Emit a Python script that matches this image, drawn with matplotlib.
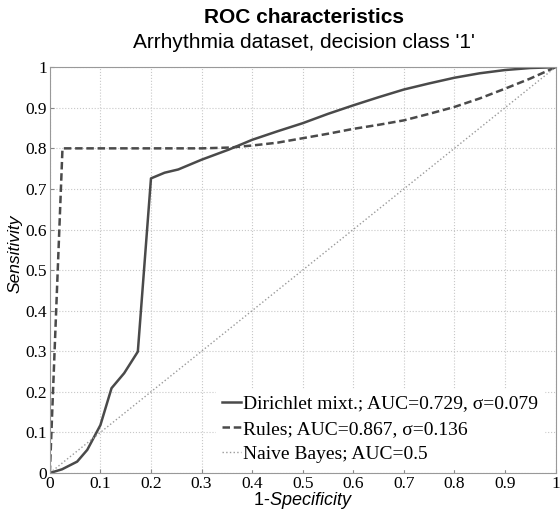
import matplotlib.pyplot as plt

plt.rcParams['mathtext.fontset'] = 'custom'
plt.rcParams['mathtext.rm'] = 'Liberation Sans'
plt.rcParams['mathtext.it'] = 'Liberation Sans:italic'

# ROC data
dirichlet_x = [0, 0.024, 0.054, 0.074, 0.1, 0.122, 0.147, 0.174, 0.2, 0.227, 0.254,
               0.3, 0.354, 0.4, 0.45, 0.5, 0.55, 0.6, 0.65, 0.7, 0.75, 0.8, 0.85,
               0.9, 0.95, 1.0]
dirichlet_y = [0, 0.009, 0.028, 0.057, 0.118, 0.209, 0.246, 0.299, 0.726, 0.74, 0.748,
               0.772, 0.797, 0.821, 0.842, 0.862, 0.885, 0.906, 0.926, 0.945, 0.96,
               0.974, 0.985, 0.993, 0.998, 1.0]

rules_x = [0, 0.025, 0.1, 0.2, 0.3, 0.356, 0.4, 0.45, 0.5, 0.55, 0.6, 0.65, 0.7,
           0.75, 0.8, 0.85, 0.9, 0.95, 1.0]
rules_y = [0, 0.8, 0.8, 0.8, 0.8, 0.802, 0.807, 0.814, 0.825, 0.836, 0.848, 0.858,
           0.869, 0.885, 0.902, 0.923, 0.947, 0.972, 1.0]

nb_x = [0, 1]
nb_y = [0, 1]

labels = ['Dirichlet mixt.; AUC=0.729, σ=0.079',
          'Rules; AUC=0.867, σ=0.136',
          'Naive Bayes; AUC=0.5']

ticks = [0, 0.1, 0.2, 0.3, 0.4, 0.5, 0.6, 0.7, 0.8, 0.9, 1]
tick_labels = ['0', '0.1', '0.2', '0.3', '0.4', '0.5', '0.6', '0.7', '0.8', '0.9', '1']

fig = plt.figure(figsize=(5.6, 5.13), dpi=100)
ax = fig.add_axes([0.089, 0.078, 0.903, 0.791])

ax.plot(dirichlet_x, dirichlet_y, '-', color='#4a4a4a', linewidth=1.8, label=labels[0])
ax.plot(rules_x, rules_y, '--', color='#4a4a4a', linewidth=1.8, dashes=(3, 1.5), label=labels[1])
ax.plot(nb_x, nb_y, ':', color='#9a9a9a', linewidth=1.0, label=labels[2])

ax.set_xlim(0, 1)
ax.set_ylim(0, 1)
ax.set_xticks(ticks)
ax.set_yticks(ticks)
ax.set_xticklabels(tick_labels, family='Liberation Serif', fontsize=12.5)
ax.set_yticklabels(tick_labels, family='Liberation Serif', fontsize=12.5)
ax.tick_params(direction='in', length=3, color='#888888', pad=2)
ax.grid(True, linestyle=':', color='#c8c8c8', linewidth=0.8)
for s in ax.spines.values():
    s.set_color('#999999')

ax.set_xlabel('1-$\\it{Specificity}$', family='Liberation Sans', fontsize=13, labelpad=-1)
ax.set_ylabel('Sensitivity', family='Liberation Sans', style='italic', fontsize=12.5)
ax.yaxis.set_label_coords(-0.055, 0.54)

leg = ax.legend(loc='lower right', bbox_to_anchor=(0.985, 0.0),
                prop={'family': 'Liberation Serif', 'size': 14},
                frameon=True, fancybox=False, edgecolor='white', framealpha=1,
                handlelength=1.0, handletextpad=0.1, labelspacing=0.4,
                borderaxespad=0.2, borderpad=0.3)

fig.text(0.543, 0.966, 'ROC characteristics', ha='center', va='center',
         family='Liberation Sans', fontweight='bold', fontsize=15)
fig.text(0.543, 0.917, "Arrhythmia dataset, decision class '1'", ha='center', va='center',
         family='Liberation Sans', fontsize=15)

plt.savefig('out.png', dpi=100)
